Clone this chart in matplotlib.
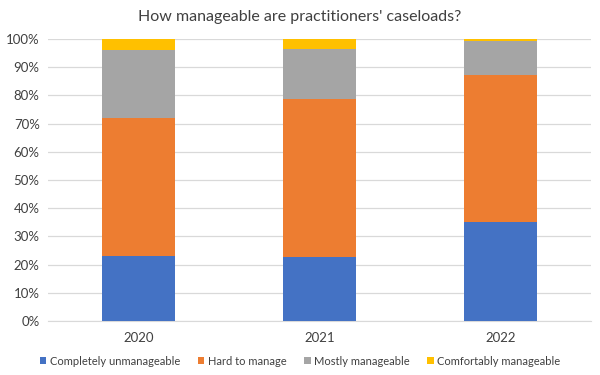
import numpy as np
import matplotlib.pyplot as plt
from matplotlib.ticker import PercentFormatter

plt.rcParams['font.family'] = ['Lato', 'DejaVu Sans']

# data (share of responses, %)
years = ["2020", "2021", "2022"]
unmanageable = [23.0, 22.6, 35.0]
hard = [49.1, 56.0, 52.2]
mostly = [24.0, 18.0, 12.1]
comfortably = [3.9, 3.4, 0.7]

labels = ["Completely unmanageable", "Hard to manage", "Mostly manageable", "Comfortably manageable"]
colors = ["#4472C4", "#ED7D31", "#A5A5A5", "#FFC000"]

fig = plt.figure(figsize=(6, 3.75), dpi=100)
ax = fig.add_axes([0.08, 0.144, 0.905, 0.752])

x = np.arange(len(years))
bottom = np.zeros(len(years))
for vals, lab, col in zip([unmanageable, hard, mostly, comfortably], labels, colors):
    ax.bar(x, vals, 0.4, bottom=bottom, color=col, label=lab, zorder=3)
    bottom += np.array(vals)

ax.set_xlim(-0.5, 2.5)
ax.set_ylim(0, 100)
ax.set_yticks(np.arange(0, 101, 10))
ax.yaxis.set_major_formatter(PercentFormatter(decimals=0))
ax.set_xticks(x)
ax.set_xticklabels(years)
ax.grid(axis='y', color='#D9D9D9', linewidth=0.9, zorder=0)
for s in ['top', 'right', 'left']:
    ax.spines[s].set_visible(False)
ax.spines['bottom'].set_color('#D9D9D9')
ax.tick_params(axis='both', length=0, labelsize=9.5, colors='#404040')
ax.tick_params(axis='x', pad=8)
ax.tick_params(axis='y', pad=6)

fig.text(0.5, 0.955, "How manageable are practitioners' caseloads?",
         ha='center', va='center', fontsize=11.5, color='#404040')

fig.legend(loc='center', bbox_to_anchor=(0.5, 0.037), ncol=4, frameon=False,
           fontsize=8, handlelength=0.6, handleheight=0.6, handletextpad=0.3,
           columnspacing=1.6, labelcolor='#404040')

fig.savefig("out.png", dpi=100)
